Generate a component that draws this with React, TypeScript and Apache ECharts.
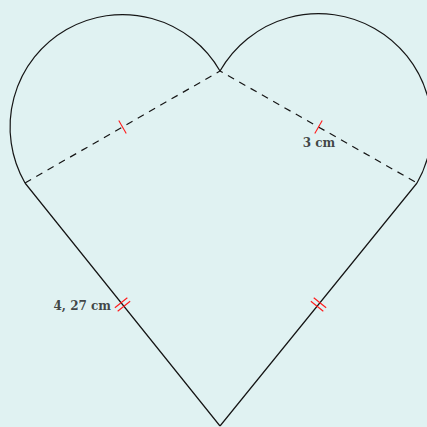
import React, { useEffect, useRef } from "react";
import * as echarts from "echarts";

// Figure vertices (cm)
const topPoint: [number, number] = [0, 4.733];
const leftPoint: [number, number] = [-2.6, 3.24];
const rightPoint: [number, number] = [2.627, 3.24];
const bottomPoint: [number, number] = [0, 0];

// Solid sides: left -> bottom -> right
const sidesData = [leftPoint, bottomPoint, rightPoint];
// Dashed diameters: left -> top -> right
const diametersData = [leftPoint, topPoint, rightPoint];
// Semicircles on the diameters (start, end going clockwise over the outside)
const arcsData = [
  [...leftPoint, ...topPoint],
  [...topPoint, ...rightPoint],
];
// Equal-length marks: segment endpoints + number of ticks
const marksData = [
  [...leftPoint, ...topPoint, 1],
  [...topPoint, ...rightPoint, 1],
  [...leftPoint, ...bottomPoint, 2],
  [...bottomPoint, ...rightPoint, 2],
];
// Labels
const labelTexts = ["3 cm", "4, 27 cm"];
const labelPositions: [number, number][] = [
  [1.32, 3.773],
  [-1.453, 1.6],
];
const labelAligns = ["center", "right"];

const INK = "#161616";
const RED = "#ff1a1a";
const BG = "#e0f2f2";

export default function App() {
  const ref = useRef<HTMLDivElement>(null);
  useEffect(() => {
    document.body.style.margin = "0";
    document.body.style.background = BG;
    const chart = echarts.init(ref.current!, null, { renderer: "svg" });
    chart.setOption({
      animation: false,
      backgroundColor: BG,
      grid: { left: 1, top: 0, width: 426, height: 426 },
      xAxis: { type: "value", min: -2.92, max: 2.76, show: false },
      yAxis: { type: "value", min: 0, max: 5.68, show: false },
      series: [
        {
          type: "line",
          name: "sides",
          data: sidesData,
          symbol: "none",
          lineStyle: { color: INK, width: 1.2 },
          z: 3,
        },
        {
          type: "line",
          name: "diameters",
          data: diametersData,
          symbol: "none",
          lineStyle: { color: INK, width: 1.2, type: [7, 6] },
          z: 3,
        },
        {
          type: "custom",
          name: "arcs",
          data: arcsData,
          clip: false,
          renderItem: (params: any, api: any) => {
            const p1 = api.coord([api.value(0), api.value(1)]);
            const p2 = api.coord([api.value(2), api.value(3)]);
            const cx = (p1[0] + p2[0]) / 2;
            const cy = (p1[1] + p2[1]) / 2;
            const r = Math.hypot(p2[0] - p1[0], p2[1] - p1[1]) / 2;
            const start = Math.atan2(p1[1] - cy, p1[0] - cx);
            return {
              type: "arc",
              shape: { cx, cy, r, startAngle: start, endAngle: start + Math.PI, clockwise: true },
              style: { stroke: INK, fill: "none", lineWidth: 1.2 },
            };
          },
          z: 3,
        },
        {
          type: "custom",
          name: "marks",
          data: marksData,
          clip: false,
          renderItem: (params: any, api: any) => {
            const p1 = api.coord([api.value(0), api.value(1)]);
            const p2 = api.coord([api.value(2), api.value(3)]);
            const n = api.value(4);
            const len = Math.hypot(p2[0] - p1[0], p2[1] - p1[1]);
            const dx = (p2[0] - p1[0]) / len;
            const dy = (p2[1] - p1[1]) / len;
            const nx = -dy;
            const ny = dx;
            const mx = (p1[0] + p2[0]) / 2;
            const my = (p1[1] + p2[1]) / 2;
            const half = n === 1 ? 7.5 : 8;
            const gap = 4.5;
            const children: any[] = [];
            for (let i = 0; i < n; i++) {
              const off = (i - (n - 1) / 2) * gap;
              const ox = mx + dx * off;
              const oy = my + dy * off;
              children.push({
                type: "line",
                shape: { x1: ox - nx * half, y1: oy - ny * half, x2: ox + nx * half, y2: oy + ny * half },
                style: { stroke: RED, lineWidth: 1.1 },
              });
            }
            return { type: "group", children };
          },
          z: 5,
        },
        {
          type: "scatter",
          name: "labels",
          symbolSize: 0,
          data: labelPositions.map((p, i) => ({
            value: p,
            name: labelTexts[i],
            label: { align: labelAligns[i] },
          })),
          label: {
            show: true,
            position: "inside",
            formatter: (p: any) => p.name,
            color: INK,
            fontFamily: "DejaVu Serif",
            fontWeight: "bold",
            fontSize: 12,
            verticalAlign: "middle",
          },
          z: 6,
        },
      ],
    });
    return () => chart.dispose();
  }, []);
  return <div ref={ref} style={{ width: 427, height: 427, position: "absolute", left: 0, top: 0 }} />;
}
